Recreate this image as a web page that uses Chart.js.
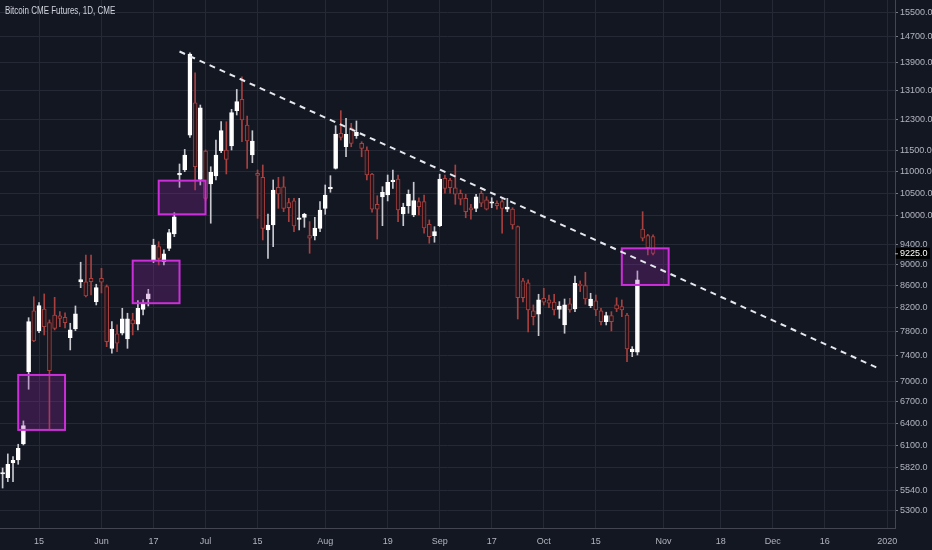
<!DOCTYPE html>
<html>
<head>
<meta charset="utf-8">
<title>Bitcoin CME Futures, 1D</title>
<script src="https://cdn.jsdelivr.net/npm/chart.js@4.4.1/dist/chart.umd.min.js"></script>
<style>
  html, body { margin: 0; padding: 0; background: #131722; }
  #wrap { position: relative; width: 932px; height: 550px; }
  #title {
    position: absolute; left: 5px; top: 5px;
    font: 10px/12px 'Liberation Sans', sans-serif;
    color: #d1d4dc;
    transform: scaleX(0.8);
    transform-origin: left top;
    white-space: nowrap;
  }
</style>
</head>
<body>
<div id="wrap">
  <canvas id="chart" width="932" height="550"></canvas>
  <div id="title">Bitcoin CME Futures, 1D, CME</div>
</div>
<script>
// trading days shown on the axis (CME closed on Memorial Day and Labor Day)
const closedDays = ['2019-05-27', '2019-09-02'];
const dates = [];
for (let d = new Date(Date.UTC(2019, 4, 6)); d <= new Date(Date.UTC(2020, 0, 2)); d.setUTCDate(d.getUTCDate() + 1)) {
    const wd = d.getUTCDay();
    const s = d.toISOString().slice(0, 10);
    if (wd > 0 && wd < 6 && !closedDays.includes(s)) dates.push(s);
}

// time axis labels
const tickDates = ['2019-05-15', '2019-06-03', '2019-06-17', '2019-07-01', '2019-07-15', '2019-08-01',
    '2019-08-19', '2019-09-03', '2019-09-17', '2019-10-01', '2019-10-15', '2019-11-01',
    '2019-11-18', '2019-12-02', '2019-12-16', '2020-01-01'];
const tickTexts = ['15', 'Jun', '17', 'Jul', '15', 'Aug', '19', 'Sep', '17', 'Oct', '15', 'Nov',
    '18', 'Dec', '16', '2020'];

// price axis labels
const priceTicks = [5300, 5540, 5820, 6100, 6400, 6700, 7000, 7400, 7800, 8200, 8600, 9000,
    9400, 10000, 10500, 11000, 11500, 12300, 13100, 13900, 14700, 15500];

// daily candles, 2019-05-06 .. 2019-10-30
const open = [
    5736, 5690, 5874, 5912, 6119, 7150, 8148, 7805, 8182, 7946,
    8078, 8061, 8038, 7692, 7837, 8673, 8673, 8741, 8313, 8741,
    8585, 7518, 7755, 7766, 7670, 7992, 7918, 8177, 8365, 9080,
    9357, 9061, 9324, 9617, 10919, 11038, 11900, 12758, 10817, 11498,
    10710, 10895, 11506, 11523, 11622, 12541, 12850, 12160, 11399, 10960,
    10864, 9701, 9805, 10633, 10647, 10288, 10326, 9924, 9968, 9582,
    9576, 9735, 10163, 10601, 11076, 11945, 11604, 12088, 11882, 11690,
    11523, 10943, 10252, 10414, 10459, 10763, 10824, 10040, 10221, 10018,
    10310, 10310, 9820, 9582, 9790, 10841, 10803, 10624, 10498, 10384,
    10176, 10163, 10498, 10348, 10275, 10275, 10310, 10147, 10147, 9769,
    8692, 8655, 8148, 8090, 8373, 8344, 8303, 8177, 7906, 8272,
    8182, 8630, 8604, 8242, 8326, 8148, 7963, 8066, 8254, 8224,
    8078, 7465, 7455, 9720, 9582, 9561
];
const high = [
    5810, 5989, 5954, 6115, 6430, 8031, 8402, 8296, 8452, 7992,
    8391, 8136, 8113, 7935, 8236, 9049, 9192, 9192, 8630, 8931,
    8617, 7963, 7906, 8195, 8108, 8108, 8331, 8344, 8537, 9509,
    9459, 9292, 9714, 10068, 11181, 11538, 14208, 13609, 12695, 11523,
    11115, 11774, 12247, 12247, 12578, 13129, 13491, 12398, 12012, 11038,
    11157, 10040, 10803, 10864, 10879, 10384, 10384, 10384, 10055, 9876,
    9968, 10310, 10687, 10903, 12141, 12541, 12336, 12205, 12266, 11731,
    11604, 10960, 10443, 10647, 10919, 11038, 10919, 10275, 10573, 10750,
    10398, 10459, 9912, 9769, 10939, 10919, 10841, 11157, 10573, 10475,
    10252, 10475, 10550, 10420, 10398, 10326, 10384, 10384, 10176, 9784,
    8741, 8711, 8254, 8446, 8555, 8433, 8446, 8313, 8360, 8373,
    8785, 8692, 8856, 8464, 8433, 8195, 8126, 8136, 8384, 8344,
    8108, 7545, 8881, 10090, 9611, 9597
];
const low = [
    5565, 5642, 5642, 5857, 6106, 6884, 7627, 7777, 7738, 6307,
    7822, 7877, 7854, 7492, 7810, 8567, 8397, 8433, 8254, 8470,
    7545, 7439, 7465, 7738, 7518, 7738, 7822, 8078, 8236, 9041,
    8996, 8996, 9278, 9561, 10633, 10998, 11841, 10573, 10687, 10337,
    9842, 10803, 11456, 10943, 11523, 12425, 11731, 11076, 11212, 9946,
    9494, 9126, 9357, 10163, 10090, 9876, 9665, 9701, 9756, 9226,
    9494, 9665, 10033, 10521, 11060, 11774, 11357, 11604, 11815, 11357,
    10803, 10077, 9513, 9790, 10326, 10610, 9876, 9790, 10055, 9981,
    10018, 9632, 9427, 9447, 9770, 10498, 10498, 10252, 10237, 9959,
    9931, 10090, 10199, 10127, 10176, 10147, 9632, 10090, 9720, 8008,
    8308, 7788, 7906, 7726, 8254, 8206, 8078, 8020, 7766, 8126,
    8136, 8494, 8267, 8206, 8066, 7906, 7906, 7805, 8136, 8048,
    7306, 7384, 7411, 9474, 9192, 9192
];
const close = [
    5752, 5857, 5908, 6062, 6365, 7963, 7639, 8242, 7877, 7165,
    7849, 8020, 7946, 7822, 8096, 8718, 8415, 8679, 8567, 8668,
    7627, 7832, 7601, 8013, 8013, 7923, 8195, 8285, 8452, 9392,
    9126, 9212, 9645, 9981, 10960, 11399, 14168, 11115, 12620, 10384,
    10983, 11399, 12012, 11292, 12487, 12786, 12292, 11749, 11749, 10912,
    9735, 9805, 10573, 10482, 10163, 10176, 9784, 9959, 10033, 9528,
    9741, 10127, 10459, 10624, 11926, 11841, 11919, 11690, 11970, 11564,
    10919, 10147, 10147, 10521, 10750, 10787, 10127, 10185, 10475, 10332,
    10199, 9741, 9561, 9665, 10824, 10610, 10624, 10475, 10368, 10090,
    10127, 10420, 10275, 10147, 10297, 10221, 10163, 10192, 9805, 8384,
    8384, 8166, 8048, 8344, 8303, 8285, 8166, 8236, 8254, 8166,
    8649, 8604, 8360, 8360, 8166, 7963, 8066, 7963, 8182, 8166,
    7507, 7507, 8711, 9528, 9337, 9225
];

// dashed trend line: bar index and price at each end
const trendIdx = [34, 168];
const trendPrice = [14245, 7213];

// gap boxes: first / last bar index, price range
const boxFrom = [3, 25, 30, 119];
const boxTo = [12, 34, 39, 128];
const boxLow = [6307, 8285, 10033, 8617];
const boxHigh = [7099, 9080, 10787, 9324];

const gridColor = '#252936';
const textColor = '#b2b5be';
const upColor = '#ffffff';
const upWick = '#c7c9cf';
const downColor = '#a8403f';
const downFill = '#24161c';
const axisFont = { family: "'Liberation Sans', sans-serif", size: 9 };

const isUp = close.map((c, i) => c >= open[i]);
const bodies = dates.map((d, i) => i < close.length ? [open[i], close[i]] : null);
const wicks = dates.map((d, i) => i < close.length ? [low[i], high[i]] : null);
const trend = dates.map((d, i) => {
    const k = trendIdx.indexOf(i);
    return k >= 0 ? trendPrice[k] : null;
});
const tickIndex = tickDates.map(d => dates.indexOf(d));

// no automatic padding around the plot, TradingView style
const noPadding = s => {
    s.paddingTop = 0;
    s.paddingBottom = 0;
    s.paddingLeft = 0;
    s.paddingRight = 0;
};

const boxesPlugin = {
    id: 'gapBoxes',
    beforeDatasetDraw(chart, args) {
        if (args.index !== 2) return;
        const { ctx, scales: { x, y }, chartArea } = chart;
        ctx.save();
        ctx.beginPath();
        ctx.rect(chartArea.left, chartArea.top, chartArea.width, chartArea.height);
        ctx.clip();
        boxFrom.forEach((from, i) => {
            const x1 = x.getPixelForValue(from);
            const x2 = x.getPixelForValue(boxTo[i]);
            const y1 = y.getPixelForValue(boxHigh[i]);
            const y2 = y.getPixelForValue(boxLow[i]);
            ctx.fillStyle = 'rgba(156, 39, 176, 0.25)';
            ctx.fillRect(x1, y1, x2 - x1, y2 - y1);
            ctx.strokeStyle = '#cc2fd9';
            ctx.lineWidth = 2;
            ctx.strokeRect(x1, y1, x2 - x1, y2 - y1);
        });
        ctx.restore();
    }
};

const lastPricePlugin = {
    id: 'lastPrice',
    afterDraw(chart) {
        const { ctx, scales: { y } } = chart;
        const last = close[close.length - 1];
        const py = y.getPixelForValue(last);
        ctx.save();
        ctx.fillStyle = '#000000';
        ctx.fillRect(y.left + 1, py - 5.5, 34, 11);
        ctx.strokeStyle = textColor;
        ctx.lineWidth = 1;
        ctx.beginPath();
        ctx.moveTo(y.left, py + 0.5);
        ctx.lineTo(y.left + 3, py + 0.5);
        ctx.stroke();
        ctx.fillStyle = '#ffffff';
        ctx.font = "9px 'Liberation Sans', sans-serif";
        ctx.textBaseline = 'middle';
        ctx.fillText(last.toFixed(1), y.left + 5, py + 0.5);
        ctx.restore();
    }
};

new Chart(document.getElementById('chart'), {
    type: 'bar',
    data: {
        labels: dates,
        datasets: [
            {
                label: 'body',
                data: bodies,
                backgroundColor: isUp.map(u => u ? upColor : downFill),
                borderColor: isUp.map(u => u ? upColor : downColor),
                borderWidth: 1,
                borderSkipped: false,
                barThickness: 4,
                minBarLength: 1.5,
                grouped: false,
                order: 1
            },
            {
                label: 'wick',
                data: wicks,
                backgroundColor: isUp.map(u => u ? upWick : downColor),
                borderWidth: 0,
                barThickness: 1,
                grouped: false,
                order: 2
            },
            {
                type: 'line',
                label: 'trend',
                data: trend,
                borderColor: '#e6e8ee',
                borderWidth: 2,
                borderDash: [6, 5],
                pointRadius: 0,
                spanGaps: true,
                fill: false,
                order: 0
            }
        ]
    },
    options: {
        responsive: false,
        animation: false,
        events: [],
        layout: { padding: 0 },
        plugins: {
            legend: { display: false },
            tooltip: { enabled: false },
            title: { display: false }
        },
        scales: {
            x: {
                type: 'category',
                offset: true,
                grid: {
                    offset: false,
                    drawTicks: false,
                    color: c => tickIndex.includes(c.index) ? gridColor : 'rgba(0,0,0,0)'
                },
                border: { color: '#434651' },
                ticks: {
                    autoSkip: false,
                    maxRotation: 0,
                    padding: 8,
                    color: textColor,
                    font: axisFont,
                    callback: (v, i) => {
                        const k = tickIndex.indexOf(i);
                        return k >= 0 ? tickTexts[k] : '';
                    }
                },
                afterFit: s => { s.height = 22; noPadding(s); }
            },
            y: {
                type: 'logarithmic',
                position: 'right',
                min: 5106,
                max: 15916,
                afterBuildTicks: s => { s.ticks = priceTicks.map(v => ({ value: v })); },
                afterFit: s => { s.width = 37; noPadding(s); },
                grid: { color: gridColor, tickLength: 3, tickColor: '#787b86' },
                border: { color: '#434651' },
                ticks: {
                    autoSkip: false,
                    padding: 2,
                    color: textColor,
                    font: axisFont,
                    callback: v => Number(v).toFixed(1)
                }
            }
        }
    },
    plugins: [boxesPlugin, lastPricePlugin]
});
</script>
</body>
</html>
